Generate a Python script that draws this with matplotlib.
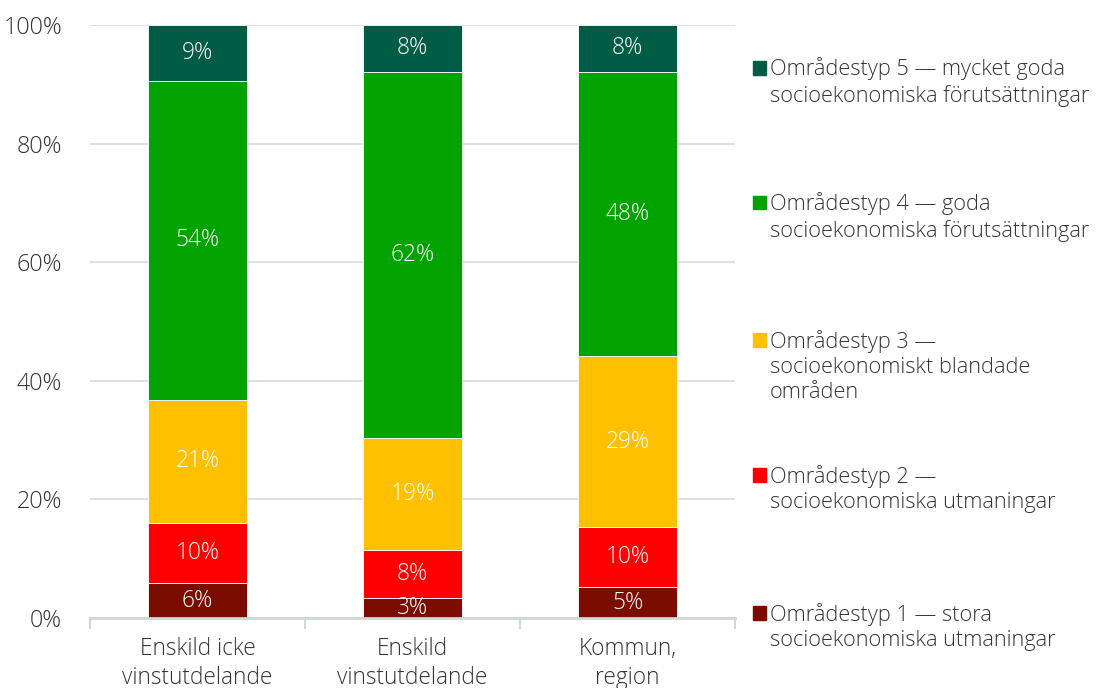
import matplotlib.pyplot as plt
from matplotlib.patches import Rectangle
import numpy as np

plt.rcParams['font.family'] = ['Open Sans', 'DejaVu Sans']
FW = 'light'
FS = 16.3

categories = ['Enskild icke\nvinstutdelande', 'Enskild\nvinstutdelande', 'Kommun,\nregion']
typ1 = [5.9, 3.4, 5.2]
typ2 = [10.1, 8.0, 10.1]
typ3 = [20.8, 18.9, 28.9]
typ4 = [53.8, 61.8, 47.9]
typ5 = [9.4, 7.9, 7.9]
labels = ['Områdestyp 1 — stora\nsocioekonomiska utmaningar',
          'Områdestyp 2 —\nsocioekonomiska utmaningar',
          'Områdestyp 3 —\nsocioekonomiskt blandade\nområden',
          'Områdestyp 4 — goda\nsocioekonomiska förutsättningar',
          'Områdestyp 5 — mycket goda\nsocioekonomiska förutsättningar']
colors = ['#7B0C00', '#FF0000', '#FFC000', '#00A300', '#005C45']
series = [typ1, typ2, typ3, typ4, typ5]

fig = plt.figure(figsize=(11.05, 6.88), dpi=100)
ax = fig.add_axes([0.0814, 0.1017, 0.584, 0.862])

x = np.arange(len(categories))
bottom = np.zeros(len(categories))
for vals, col in zip(series, colors):
    vals = np.array(vals)
    ax.bar(x, vals, 0.46, bottom=bottom, color=col, edgecolor='white', linewidth=0.6, zorder=3)
    for xi, b, v in zip(x, bottom, vals):
        ax.text(xi, b + v / 2, f'{v:.0f}%', ha='center', va='center', color='white',
                fontsize=FS, fontweight=FW, zorder=4)
    bottom += vals

ax.set_xlim(-0.5, 2.5)
ax.set_ylim(0, 100)
ax.set_yticks(range(0, 101, 20))
ax.set_yticklabels([f'{t}%' for t in range(0, 101, 20)], fontsize=FS + 0.5, fontweight=FW, color='#333333')
ax.yaxis.grid(True, color='#D9DFE0', linewidth=1.3, zorder=0)
ax.tick_params(axis='y', length=0, pad=20)

ax.set_xticks([-0.5, 0.5, 1.5, 2.5])
ax.set_xticklabels([])
ax.set_xticks(x, minor=True)
ax.set_xticklabels(categories, minor=True, fontsize=FS, fontweight=FW, color='#333333',
                   linespacing=1.25)
ax.tick_params(axis='x', which='major', length=8, color='#D0D7D9', width=1.5)
ax.tick_params(axis='x', which='minor', length=0, pad=14)

for s in ['top', 'right', 'left']:
    ax.spines[s].set_visible(False)
ax.spines['bottom'].set_color('#D0D7D9')
ax.spines['bottom'].set_linewidth(2)
ax.spines['bottom'].set_zorder(5)

# legend, top to bottom
legend_y = [0.902, 0.706, 0.506, 0.310, 0.109]
for yy, lab, col in zip(legend_y, labels[::-1], colors[::-1]):
    fig.patches.append(Rectangle((0.681, yy - 0.0105), 0.0125, 0.02, transform=fig.transFigure,
                                 color=col, figure=fig))
    fig.text(0.697, yy + 0.0145, lab, ha='left', va='top', fontsize=15.7, fontweight=FW,
             color='#333333', linespacing=1.25)

fig.savefig('out.png', dpi=100)
